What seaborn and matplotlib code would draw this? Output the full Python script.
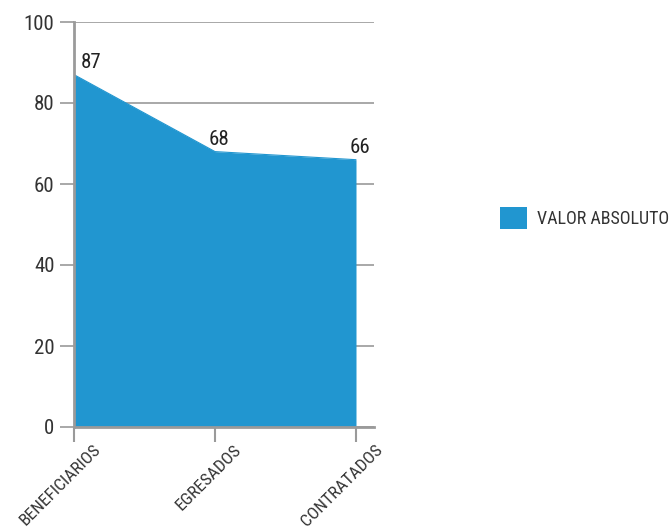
import matplotlib
matplotlib.use("Agg")
import matplotlib.pyplot as plt
import matplotlib.transforms as mtransforms
import seaborn as sns
import pandas as pd
from matplotlib.patches import Patch
from matplotlib import font_manager

categories = ["BENEFICIARIOS", "EGRESADOS", "CONTRATADOS"]
values = [87, 68, 66]
series_name = "VALOR ABSOLUTO"
y_ticks = [0, 20, 40, 60, 80, 100]

sns.set_theme(style="white")
names = {f.name for f in font_manager.fontManager.ttflist}
fam = [f for f in ["Liberation Sans Narrow", "Roboto Condensed", "Roboto", "DejaVu Sans"] if f in names]
plt.rcParams["font.family"] = fam + ["DejaVu Sans"]

color = "#2196d0"
grid_c = "#9a9a9a"
text_c = "#333333"

df = pd.DataFrame({"x": range(len(categories)), "cat": categories, "v": values})

fig = plt.figure(figsize=(6.71, 5.31), dpi=100)
ax = fig.add_axes([74 / 671, 1 - 427 / 531, 300 / 671, 405 / 531])

ax.fill_between(df["x"], 0, df["v"], color=color, linewidth=0, zorder=2)
sns.lineplot(data=df, x="x", y="v", color=color, linewidth=0.8, ax=ax, zorder=3)

ax.set_xlim(0, 2 + 18 / 141)
ax.set_ylim(0, 100)
ax.set_yticks(y_ticks)
ax.set_xticks(df["x"])
ax.set_xticklabels([])
ax.set_xlabel("")
ax.set_ylabel("")
ax.grid(axis="y", color=grid_c, linewidth=1.2, zorder=1)
ax.set_axisbelow(True)

# category labels, slanted and hanging from just right of each tick
base = mtransforms.blended_transform_factory(ax.transData, ax.transAxes)
offset = mtransforms.ScaledTranslation(19 / 100, -15 / 100, fig.dpi_scale_trans)
for i, cat in zip(df["x"], categories):
    ax.text(i, 0, cat, transform=base + offset, rotation=45, ha="right", va="top",
            rotation_mode="anchor", fontsize=12.5, color=text_c, clip_on=False)

for s in ["top", "right"]:
    ax.spines[s].set_visible(False)
for s in ["left", "bottom"]:
    ax.spines[s].set_color(grid_c)
    ax.spines[s].set_linewidth(2)
    ax.spines[s].set_zorder(4)

ax.tick_params(axis="y", length=10, width=1.2, color=grid_c, labelsize=15, labelcolor=text_c, pad=4, left=True)
ax.tick_params(axis="x", length=11, width=1.5, color=grid_c, bottom=True)

for i, v in enumerate(values):
    dx = 0.12 if i == 0 else 0.03
    ax.text(i + dx, v + 0.6, str(v), ha="center", va="bottom", fontsize=15, color="#222222", zorder=5)

handles = [Patch(facecolor=color, edgecolor="none", label=series_name)]
fig.legend(handles=handles, loc="center left", bbox_to_anchor=(484 / 671, 1 - 218 / 531),
           frameon=False, fontsize=13, handlelength=1.5, handleheight=1.5, handletextpad=0.55,
           labelcolor=text_c)

fig.savefig("out.png", dpi=100)
